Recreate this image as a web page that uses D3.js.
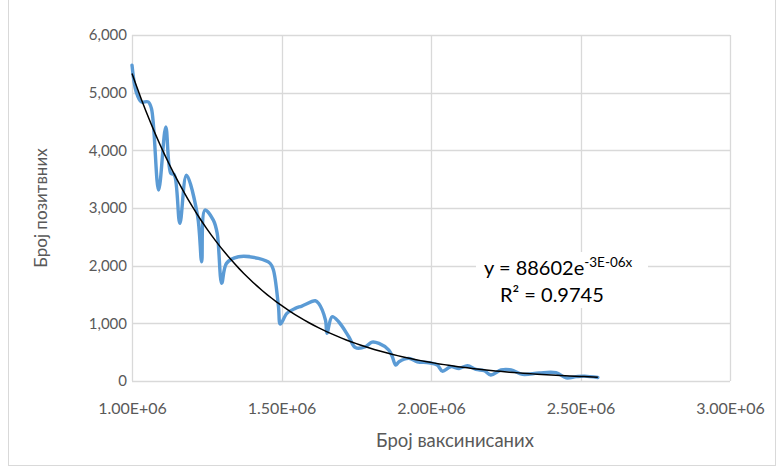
<!DOCTYPE html>
<html><head><meta charset="utf-8">
<script src="https://cdn.jsdelivr.net/npm/d3@7"></script>
<style>body{margin:0;background:#fff}text{font-family:Lato,"Open Sans",sans-serif}</style>
</head><body><svg id="c" width="781" height="472"></svg>
<script>
// vaccinated (x) and positives (y)
const vaccinated = [1.000,1.014,1.031,1.054,1.065,1.089,1.113,1.130,1.141,1.160,1.182,1.219,1.233,1.244,1.272,1.285,1.300,1.316,1.356,1.423,1.462,1.473,1.490,1.496,1.518,1.546,1.568,1.613,1.624,1.647,1.652,1.669,1.691,1.725,1.747,1.781,1.803,1.826,1.859,1.870,1.882,1.893,1.926,1.954,1.993,2.021,2.038,2.066,2.094,2.122,2.150,2.178,2.200,2.234,2.268,2.306,2.362,2.418,2.452,2.485,2.513,2.558].map(v=>v*1e6);
const positives = [5477,5014,4840,4840,4726,3310,4407,3598,3580,2733,3570,2877,2068,2964,2790,2560,1693,2040,2154,2126,2040,1924,1288,988,1173,1260,1300,1392,1347,1057,826,1114,1028,768,580,594,675,652,537,430,277,334,393,334,317,277,170,248,218,265,201,179,104,191,191,115,140,144,55,75,85,60];
const xTicks = [1e6,1.5e6,2e6,2.5e6,3e6];
const xTickLabels = ["1.00E+06","1.50E+06","2.00E+06","2.50E+06","3.00E+06"];
const yTicks = [0,1000,2000,3000,4000,5000,6000];
const trendA = 88602, trendB = 2.81e-6;
const xTitle = "Број ваксинисаних", yTitle = "Број позитвних";

const svg = d3.select("#c");
const x = d3.scaleLinear().domain([1e6,3e6]).range([132,730]);
const y = d3.scaleLinear().domain([0,6000]).range([381,35]);

svg.append("rect").attr("x",8.5).attr("y",-0.5).attr("width",767).attr("height",466).attr("fill","none").attr("stroke","#d9d9d9");

const g = svg.append("g");
g.selectAll(".hg").data(yTicks).join("line").attr("x1",x(1e6)).attr("x2",x(3e6))
  .attr("y1",d=>Math.round(y(d))+0.5).attr("y2",d=>Math.round(y(d))+0.5).attr("stroke","#d9d9d9").attr("stroke-width",1.3);
g.selectAll(".vg").data(xTicks).join("line").attr("y1",y(0)).attr("y2",y(6000))
  .attr("x1",d=>Math.round(x(d))+0.5).attr("x2",d=>Math.round(x(d))+0.5).attr("stroke","#d9d9d9").attr("stroke-width",1.3);

const yAxis = d3.axisLeft(y).tickValues(yTicks).tickFormat(d3.format(",")).tickSize(0).tickPadding(5);
const ya = svg.append("g").attr("transform",`translate(${x(1e6)},0)`).call(yAxis);
const xAxis = d3.axisBottom(x).tickValues(xTicks).tickFormat((d,i)=>xTickLabels[i]).tickSize(0).tickPadding(22);
const xa = svg.append("g").attr("transform",`translate(0,${y(0)})`).call(xAxis);
[ya,xa].forEach(a=>{a.select(".domain").remove();a.selectAll("text").attr("fill","#595959").style("font-family","Lato, sans-serif");});
ya.selectAll("text").style("font-size","15px");
xa.selectAll("text").style("font-size","16px");

const pts = vaccinated.map((v,i)=>[v,positives[i]]);
svg.append("path").datum(pts).attr("fill","none").attr("stroke","#5b9bd5").attr("stroke-width",3.4)
  .attr("stroke-linejoin","round").attr("stroke-linecap","round")
  .attr("d",d3.line().x(d=>x(d[0])).y(d=>y(d[1])).curve(d3.curveCatmullRom.alpha(0.5)));

const tr = d3.range(0,101).map(i=>{const xv=vaccinated[0]+(vaccinated[vaccinated.length-1]-vaccinated[0])*i/100;return [xv,trendA*Math.exp(-trendB*xv)];});
svg.append("path").datum(tr).attr("fill","none").attr("stroke","#000").attr("stroke-width",1.5)
  .attr("d",d3.line().x(d=>x(d[0])).y(d=>y(d[1])));

// equation label
svg.append("rect").attr("x",476).attr("y",252).attr("width",172).attr("height",56).attr("fill","#fff");
const eq = svg.append("text").attr("x",484).attr("y",275).attr("fill","#000").style("font-size","20px");
eq.append("tspan").text("y = 88602e");
eq.append("tspan").attr("dy",-8).style("font-size","13.5px").text("-3E-06x");
svg.append("text").attr("x",500).attr("y",302).attr("fill","#000").style("font-size","20px").text("R² = 0.9745");

svg.append("text").attr("x",455).attr("y",447).attr("text-anchor","middle").attr("fill","#595959").style("font-size","18.5px").text(xTitle);
svg.append("text").attr("transform",`translate(47,${y(3000)}) rotate(-90)`).attr("text-anchor","middle").attr("fill","#595959").style("font-size","17px").text(yTitle);
</script></body></html>
